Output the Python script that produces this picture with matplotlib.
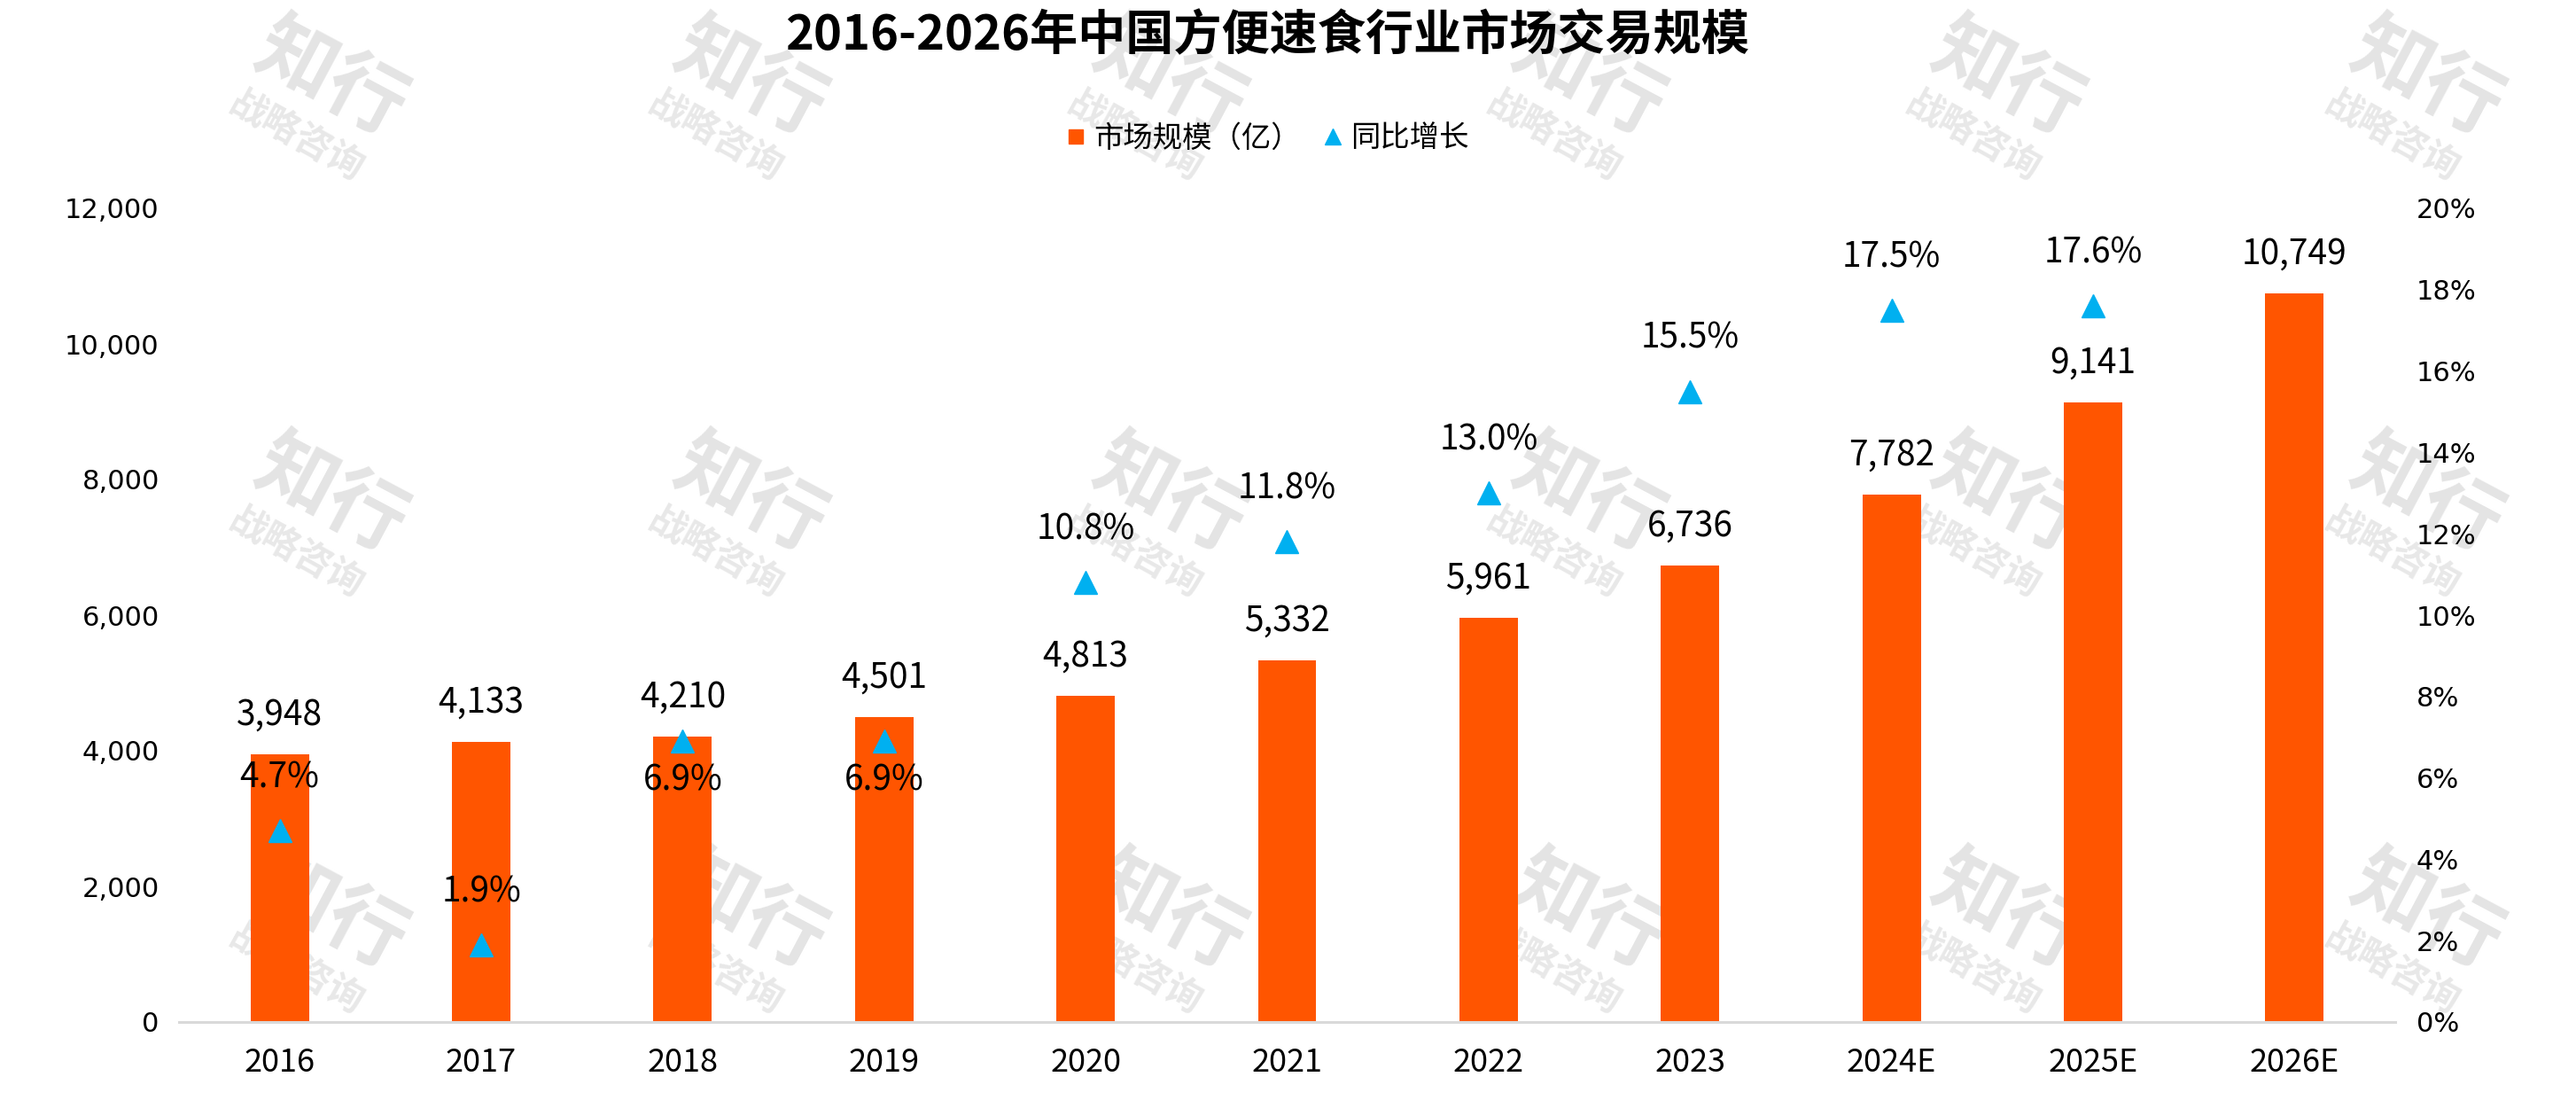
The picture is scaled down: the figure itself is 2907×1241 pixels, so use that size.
import matplotlib
matplotlib.use("Agg")
import matplotlib.pyplot as plt
from matplotlib.lines import Line2D
import numpy as np

plt.rcParams['font.family'] = ['Noto Sans CJK SC', 'DejaVu Sans']

# ---- data ----
years = ["2016", "2017", "2018", "2019", "2020", "2021", "2022", "2023", "2024E", "2025E", "2026E"]
market_size = [3948, 4133, 4210, 4501, 4813, 5332, 5961, 6736, 7782, 9141, 10749]
growth_years = ["2016", "2017", "2018", "2019", "2020", "2021", "2022", "2023", "2024E", "2025E"]
growth = [4.7, 1.9, 6.9, 6.9, 10.8, 11.8, 13.0, 15.5, 17.5, 17.6]
growth_label_below = [False, False, True, True, False, False, False, False, False, False]
left_ticks = [0, 2000, 4000, 6000, 8000, 10000, 12000]
right_ticks = [0, 2, 4, 6, 8, 10, 12, 14, 16, 18, 20]
title = "2016-2026年中国方便速食行业市场交易规模"
legend_labels = ["市场规模（亿）", "同比增长"]

BAR_COLOR = "#FF5500"
TRI_COLOR = "#00B0F0"

W, H = 2907, 1241
fig = plt.figure(figsize=(W / 100, H / 100), dpi=100)
fig.patch.set_facecolor("white")

# ---- watermarks ----
for cx in [355 + k * 473 for k in range(6)]:
    for cy in [120 + r * 470 for r in range(3)]:
        fig.text((cx + 18) / W, 1 - (cy - 30) / H, "知行", fontsize=64, fontweight="bold",
                 color="#E4E4E4", rotation=-28, ha="center", va="center",
                 rotation_mode="anchor", zorder=-5)
        fig.text((cx - 20) / W, 1 - (cy + 34) / H, "战略咨询", fontsize=30, fontweight="bold",
                 color="#E8E8E8", rotation=-29, ha="center", va="center",
                 rotation_mode="anchor", zorder=-5)

ax = fig.add_axes([202 / W, 1 - 1153 / H, (2703 - 202) / W, (1153 - 235) / H])
ax.set_facecolor("none")
x = np.arange(len(years))
bars = ax.bar(x, market_size, width=0.29, color=BAR_COLOR, zorder=2)
ax.set_xlim(-0.5, len(years) - 0.5)
ax.set_ylim(0, 12000)
ax.set_yticks(left_ticks)
ax.set_yticklabels([f"{v:,}" for v in left_ticks], fontfamily="DejaVu Sans", fontsize=22)
ax.set_xticks(x)
ax.set_xticklabels(years, fontsize=26)
ax.tick_params(axis="both", length=0)
ax.tick_params(axis="y", pad=16)
ax.tick_params(axis="x", pad=20)
for s in ["top", "left", "right"]:
    ax.spines[s].set_visible(False)
ax.spines["bottom"].set_color("#D9D9D9")
ax.spines["bottom"].set_linewidth(2.2)

for xi, v in zip(x, market_size):
    ax.annotate(f"{v:,}", (xi, v), xytext=(0, 32), textcoords="offset points",
                ha="center", va="center", fontsize=28, color="black", zorder=5)

ax2 = ax.twinx()
ax2.set_ylim(0, 20)
ax2.set_yticks(right_ticks)
ax2.set_yticklabels([f"{v}%" for v in right_ticks], fontfamily="DejaVu Sans", fontsize=22)
ax2.tick_params(axis="y", length=0, pad=17)
for s in ["top", "left", "right", "bottom"]:
    ax2.spines[s].set_visible(False)
gx = [years.index(g) for g in growth_years]
ax2.plot(gx, growth, linestyle="none", marker="^", markersize=19, color=TRI_COLOR, zorder=4)
for xi, v, below in zip(gx, growth, growth_label_below):
    off = -32 if below else 43
    ax2.annotate(f"{v:.1f}%", (xi, v), xytext=(0, off), textcoords="offset points",
                 ha="center", va="center", fontsize=28, color="black", zorder=5)

fig.text(1430 / W, 1 - 41 / H, title, fontsize=39, fontweight="bold",
         ha="center", va="center")

handles = [Line2D([], [], linestyle="none", marker="s", markersize=12, color=BAR_COLOR),
           Line2D([], [], linestyle="none", marker="^", markersize=13, color=TRI_COLOR)]
fig.legend(handles, legend_labels, loc="center", bbox_to_anchor=(1431 / W, 1 - 156 / H),
           ncol=2, frameon=False, fontsize=24, handlelength=0.6, handletextpad=0.3,
           columnspacing=0.8)

fig.savefig("out.png", dpi=100, facecolor="white")
